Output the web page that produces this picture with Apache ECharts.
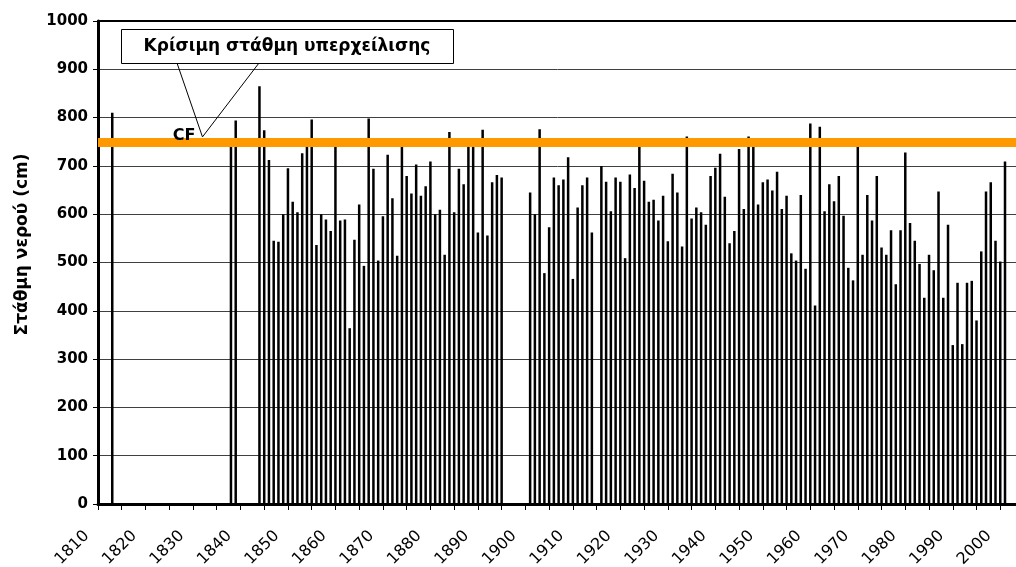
<!DOCTYPE html>
<html>
<head>
<meta charset="utf-8">
<script src="https://cdn.jsdelivr.net/npm/echarts@6/dist/echarts.min.js"></script>
<style>
  html, body { margin: 0; padding: 0; background: #fff; }
  #main { width: 1016px; height: 567px; }
</style>
</head>
<body>
<div id="main"></div>
<script>
// years with a recorded maximum water level
const years = [
  1813, 1838, 1839,
  1844, 1845, 1846, 1847, 1848, 1849, 1850, 1851, 1852, 1853, 1854, 1855, 1856, 1857, 1858, 1859,
  1860, 1861, 1862, 1863, 1864, 1865, 1866, 1867, 1868, 1869, 1870, 1871, 1872, 1873, 1874, 1875,
  1876, 1877, 1878, 1879, 1880, 1881, 1882, 1883, 1884, 1885, 1886, 1887, 1888, 1889, 1890, 1891,
  1892, 1893, 1894, 1895,
  1901, 1902, 1903, 1904, 1905, 1906, 1907, 1908, 1909, 1910, 1911, 1912, 1913, 1914,
  1916, 1917, 1918, 1919, 1920, 1921, 1922, 1923, 1924, 1925, 1926, 1927, 1928, 1929, 1930, 1931,
  1932, 1933, 1934, 1935, 1936, 1937, 1938, 1939, 1940, 1941, 1942, 1943, 1944, 1945, 1946, 1947,
  1948, 1949, 1950, 1951, 1952, 1953, 1954, 1955, 1956, 1957, 1958, 1959, 1960, 1961, 1962, 1963,
  1964, 1965, 1966, 1967, 1968, 1969, 1970, 1971, 1972, 1973, 1974, 1975, 1976, 1977, 1978, 1979,
  1980, 1981, 1982, 1983, 1984, 1985, 1986, 1987, 1988, 1989, 1990, 1991, 1992, 1993, 1994, 1995,
  1996, 1997, 1998, 1999, 2000, 2001
]
// στάθμη νερού (cm)
const levels = [
  810, 745, 794,
  865, 774, 712, 545, 543, 600, 695, 626, 604, 726, 745, 796, 536, 600, 589, 565,
  745, 587, 589, 364, 547, 620, 493, 798, 694, 504, 596, 723, 633, 514, 745, 679,
  643, 703, 638, 658, 709, 600, 609, 516, 770, 604, 694, 662, 745, 745, 562, 775,
  556, 666, 681, 676,
  645, 600, 776, 478, 573, 676, 660, 672, 718, 466, 614, 660, 676, 562,
  700, 667, 606, 676, 667, 509, 682, 654, 745, 669, 626, 630, 587, 638, 544, 684,
  645, 533, 761, 591, 614, 604, 578, 679, 696, 725, 636, 540, 565, 735, 611, 761,
  745, 620, 666, 672, 649, 688, 611, 638, 519, 504, 640, 487, 788, 411, 781, 606,
  662, 627, 679, 597, 489, 463, 745, 516, 640, 587, 679, 531, 516, 567, 455, 567,
  728, 582, 545, 497, 427, 516, 484, 647, 427, 578, 329, 458, 331, 458, 462, 380,
  523, 647, 666, 545, 502, 709
]
const labelYears = [1810, 1820, 1830, 1840, 1850, 1860, 1870, 1880, 1890, 1900,
  1910, 1920, 1930, 1940, 1950, 1960, 1970, 1980, 1990, 2000]
const criticalLevel = 750
const calloutPoint = [1832, 760]

const font = 'DejaVu Sans'
const chart = echarts.init(document.getElementById('main'))

chart.setOption({
  animation: false,
  grid: { left: 98, right: -8, top: 21, bottom: 63, outerBoundsMode: 'none' },
  xAxis: [{
    type: 'value', min: 1810, max: 2005, interval: 5,
    axisLine: { lineStyle: { color: '#000', width: 3 } },
    axisTick: { show: true, length: 6, lineStyle: { color: '#000', width: 1 } },
    axisLabel: {
      rotate: 45, margin: 18, padding: [0, 16, 0, 0],
      fontFamily: font, fontSize: 16, color: '#000',
      formatter: v => labelYears.includes(v) ? String(v) : ''
    },
    splitLine: { show: false }
  }, {
    type: 'value', position: 'top', min: 1810, max: 2005, interval: 5,
    axisLine: { show: true, lineStyle: { color: '#000', width: 2 } },
    axisTick: { show: false }, axisLabel: { show: false }, splitLine: { show: false }
  }],
  yAxis: {
    type: 'value', min: 0, max: 1000, interval: 100,
    name: 'Στάθμη νερού (cm)', nameLocation: 'middle', nameGap: 67, nameRotate: 90,
    nameTextStyle: { fontFamily: font, fontWeight: 'bold', fontSize: 17, color: '#000', padding: [0, 0, 0, 36] },
    axisLine: { show: true, lineStyle: { color: '#000', width: 3 } },
    axisTick: { show: true, length: 5, lineStyle: { color: '#000', width: 1 } },
    axisLabel: {
      fontFamily: font, fontWeight: 'bold', fontSize: 15, color: '#000', margin: 10,
      formatter: v => String(v)
    },
    splitLine: { lineStyle: { color: '#404040', width: 1 } }
  },
  series: [{
    type: 'bar',
    data: years.map((y, i) => [y, levels[i]]),
    barWidth: 2.5,
    itemStyle: { color: '#000' },
    markLine: {
      silent: true, symbol: 'none', label: { show: false },
      lineStyle: { color: '#FF9900', width: 9, type: 'solid' },
      data: [{ yAxis: criticalLevel }]
    }
  }]
})

// callout pointing at the critical level line
const tip = chart.convertToPixel({ xAxisIndex: 0, yAxisIndex: 0 }, calloutPoint)
chart.setOption({
  graphic: [
    { type: 'polyline', shape: { points: [[177, 63], tip, [259, 63]] },
      style: { stroke: '#000', fill: 'none', lineWidth: 1 }, z: 10 },
    { type: 'rect', shape: { x: 121.5, y: 29.5, width: 332, height: 34 },
      style: { fill: '#fff', stroke: '#000', lineWidth: 1 }, z: 11 },
    { type: 'text', x: 287, y: 46.5, z: 12,
      style: { text: 'Κρίσιμη στάθμη υπερχείλισης', font: 'bold 17px "DejaVu Sans"', fill: '#000',
        textAlign: 'center', textVerticalAlign: 'middle' } },
    { type: 'text', x: tip[0] - 7, y: tip[1] - 1, z: 12,
      style: { text: 'CF', font: 'bold 16px "DejaVu Sans"', fill: '#000',
        textAlign: 'right', textVerticalAlign: 'middle' } }
  ]
})
</script>
</body>
</html>
